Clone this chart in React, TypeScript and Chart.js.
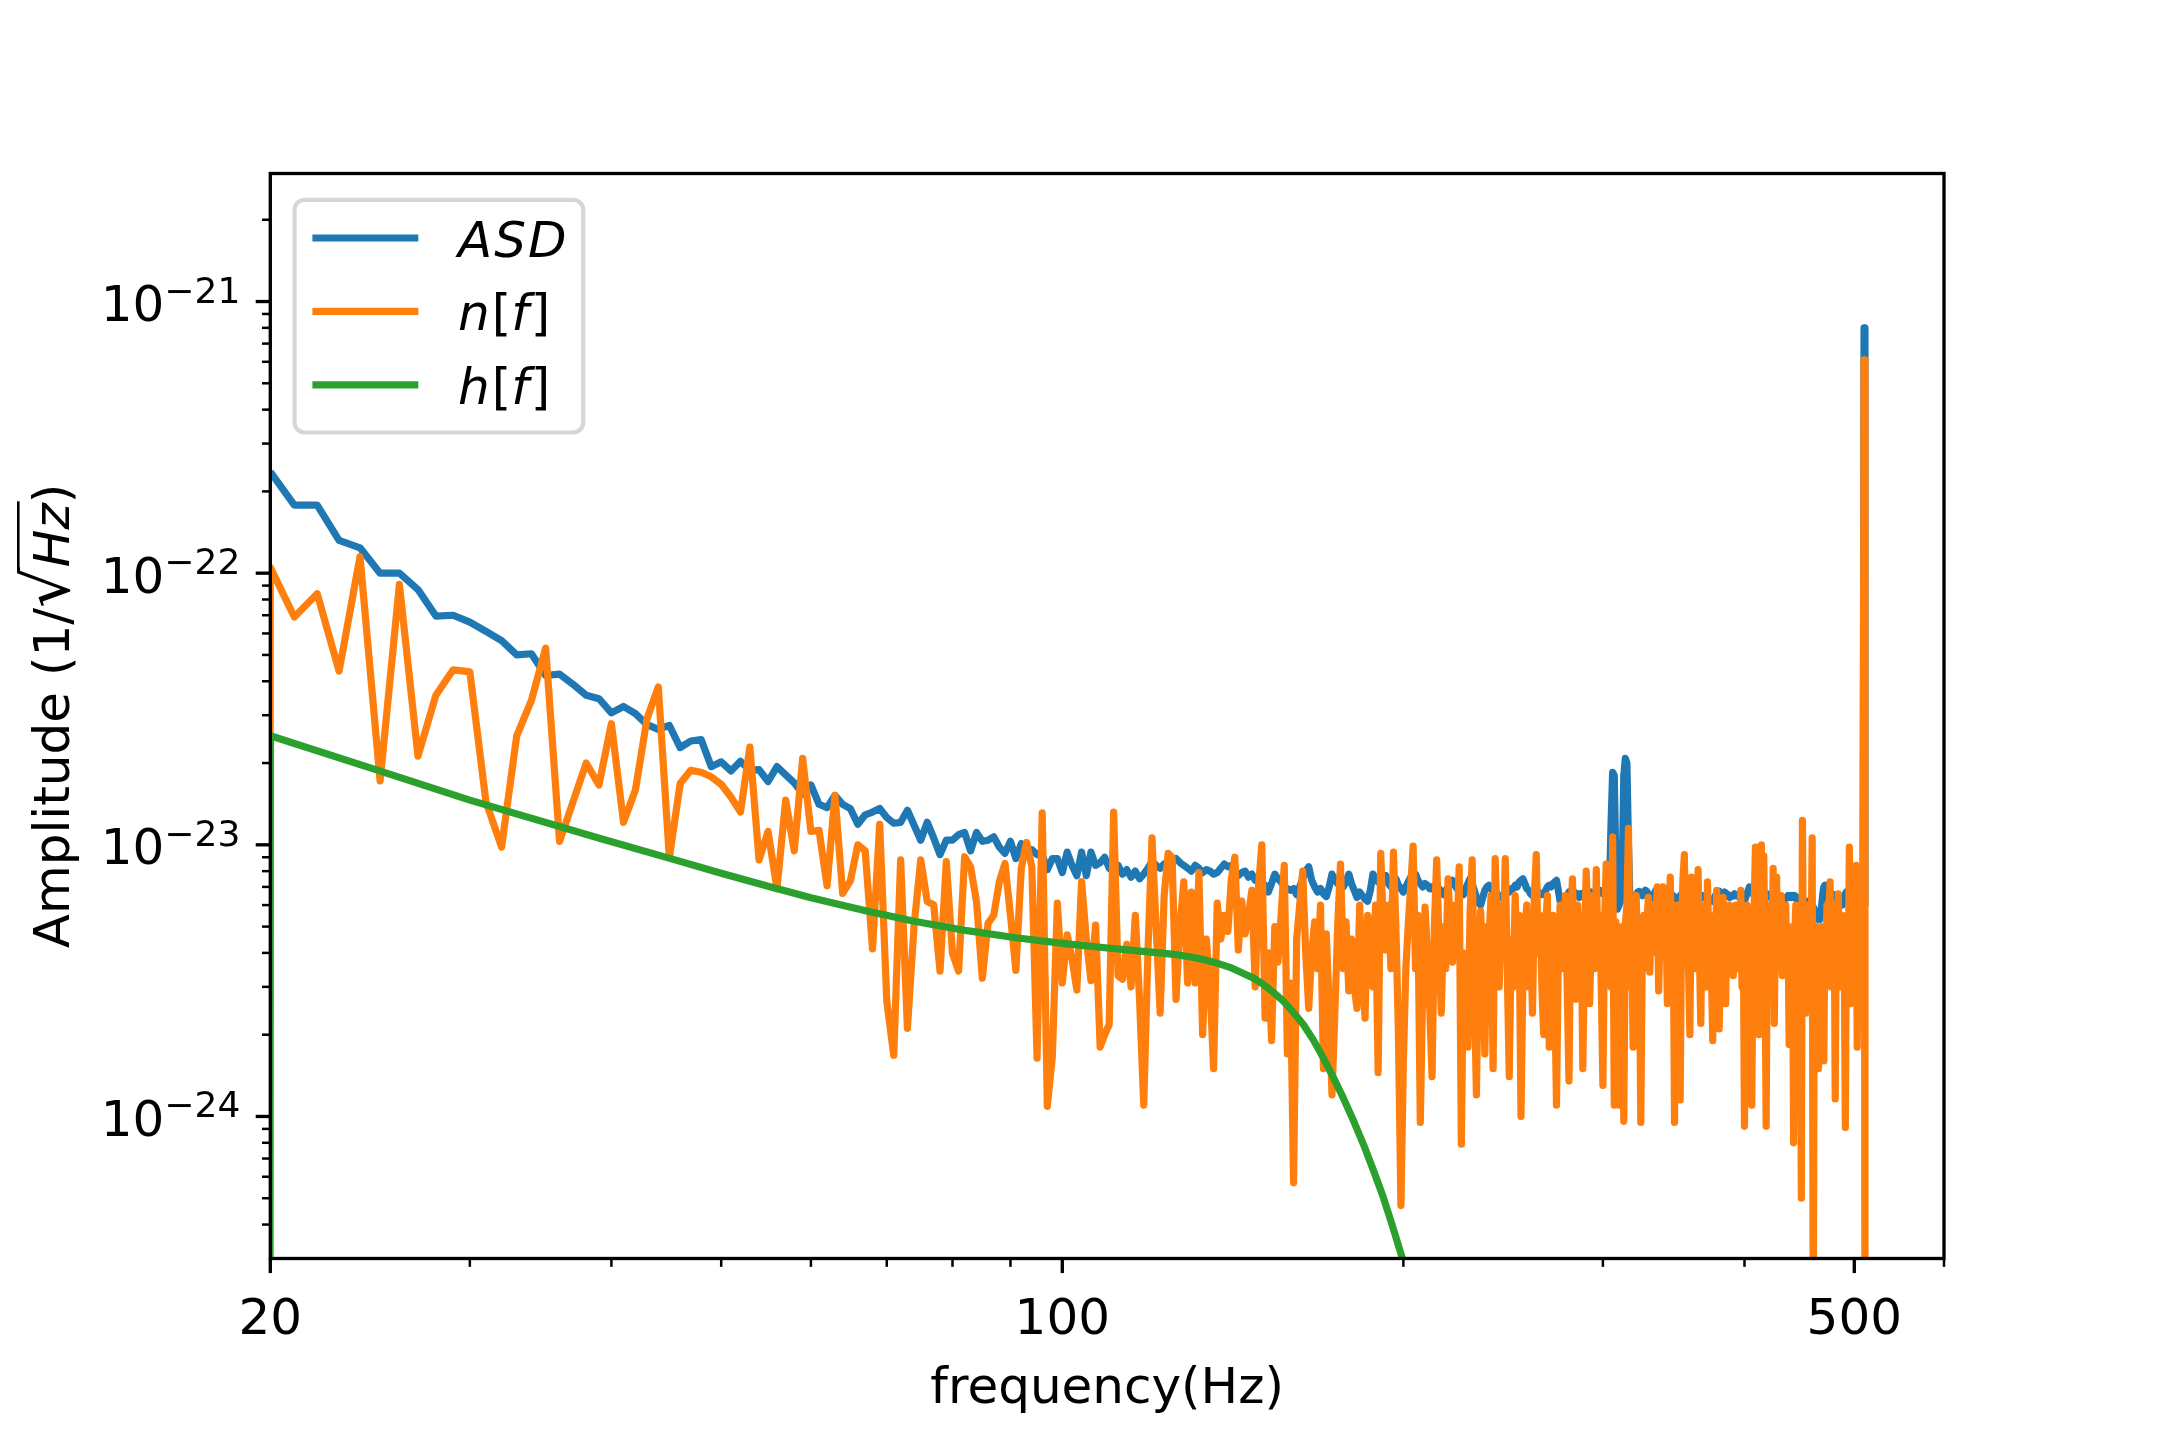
import React, { useEffect, useRef } from 'react';
import { Chart, registerables } from 'chart.js';

Chart.register(...registerables);

// ---------------- data (values in units of 1e-24 1/sqrt(Hz)) ----------------
const UNIT = 1e-24;
const FREQ_START = 20; // Hz, first bin of ASD and n[f]; bins are 1 Hz apart
const EDGE_FREQ = 19; // bin below the band where n[f] and h[f] are zero
const EDGE_VALUE = 1e-276; // ~0 (in UNIT)

// ASD, 20 ... 511 Hz
const ASD = [
  236, 178, 178, 132, 124, 100, 100, 87, 69.5, 70, // 20
  66, 61, 56.5, 50, 50.5, 42, 42.5, 39, 35.5, 34.5, // 30
  30.6, 32.3, 30.4, 27.7, 26.6, 27.5, 22.8, 24.1, 24.4, 19.4, // 40
  20.2, 18.7, 20.3, 18.8, 18.9, 17.1, 19.4, 18.1, 16.9, 15.4, // 50
  16.6, 14.1, 13.7, 15.2, 14.1, 13.6, 11.9, 12.9, 13.2, 13.6, // 60
  12.6, 12.0, 12.1, 13.4, 11.8, 10.4, 12.1, 10.6, 9.2, 10.4, // 70
  10.4, 10.9, 11.1, 9.5, 11.1, 10.3, 10.4, 10.7, 9.8, 9.3, // 80
  10.3, 8.9, 10.1, 9.7, 9.6, 9.2, 9.2, 8.1, 8.9, 8.9, // 90
  7.9, 9.4, 8.4, 7.7, 9.4, 7.7, 9.4, 8.4, 8.6, 9.0, // 100
  8.2, 8.0, 8.4, 7.8, 8.1, 7.6, 8.0, 7.5, 7.8, 8.2, // 110
  8.7, 8.4, 8.2, 8.5, 8.3, 8.7, 8.9, 8.6, 8.4, 8.2, // 120
  8.0, 8.4, 8.2, 7.9, 8.1, 8.0, 7.8, 7.9, 8.2, 8.5, // 130
  8.3, 8.4, 8.1, 7.7, 7.9, 8.0, 7.6, 7.8, 7.4, 7.3, // 140
  7.0, 7.1, 6.7, 7.2, 7.8, 7.5, 7.3, 7.0, 6.9, 6.8, // 150
  6.9, 6.55, 7.0, 7.5, 8.0, 8.3, 7.4, 7.0, 6.7, 6.9, // 160
  6.6, 6.45, 7.0, 7.8, 7.4, 7.2, 7.0, 7.0, 7.3, 7.8, // 170
  7.2, 6.8, 6.4, 6.7, 6.5, 6.3, 6.2, 6.8, 7.8, 7.5, // 180
  7.3, 7.4, 7.6, 7.7, 7.2, 7.0, 7.3, 7.5, 7.1, 6.9, // 190
  6.7, 7.0, 7.3, 7.6, 7.5, 7.8, 7.4, 7.2, 7.0, 7.2, // 200
  7.1, 6.9, 7.0, 6.8, 6.6, 6.9, 6.7, 6.55, 6.8, 7.0, // 210
  7.2, 7.4, 7.1, 6.9, 6.7, 6.6, 6.55, 6.9, 7.2, 7.5, // 220
  7.2, 6.8, 6.4, 6.1, 6.0, 6.4, 6.8, 7.0, 7.1, 6.9, // 230
  6.7, 6.8, 6.6, 6.5, 6.4, 6.4, 6.6, 6.8, 6.7, 6.9, // 240
  6.9, 7.1, 7.0, 7.3, 7.4, 7.5, 7.2, 6.9, 6.8, 6.6, // 250
  6.5, 6.7, 6.9, 6.7, 6.6, 6.55, 6.6, 6.8, 7.0, 7.1, // 260
  7.0, 7.2, 7.3, 7.4, 6.8, 6.2, 5.9, 5.85, 6.2, 6.5, // 270
  6.7, 6.6, 6.8, 6.7, 6.5, 6.6, 6.4, 6.6, 6.55, 6.7, // 280
  6.8, 6.6, 6.5, 6.7, 6.6, 6.4, 6.55, 6.6, 6.8, 6.7, // 290
  6.6, 6.8, 6.7, 6.6, 6.8, 12.0, 18.5, 18.0, 8.5, 5.8, // 300
  6.0, 6.2, 8.0, 18.0, 20.8, 20.0, 10.0, 6.1, 6.0, 5.85, // 310
  6.2, 6.5, 6.7, 6.74, 6.6, 6.5, 6.7, 6.8, 6.74, 6.6, // 320
  6.5, 6.36, 6.4, 6.6, 6.8, 6.9, 6.8, 6.6, 6.7, 6.9, // 330
  6.8, 6.6, 6.4, 6.2, 6.2, 6.4, 6.5, 6.4, 6.3, 6.36, // 340
  6.4, 6.5, 6.6, 6.5, 6.6, 6.55, 6.5, 6.4, 6.3, 6.2, // 350
  6.2, 6.3, 6.4, 6.3, 6.2, 6.3, 6.4, 6.5, 6.4, 6.45, // 360
  6.45, 6.4, 6.3, 6.2, 6.3, 6.2, 6.3, 6.5, 6.6, 6.7, // 370
  6.74, 6.6, 6.5, 6.6, 6.7, 6.65, 6.6, 6.5, 6.4, 6.5, // 380
  6.45, 6.5, 6.6, 6.5, 6.55, 6.5, 6.4, 6.3, 6.2, 6.3, // 390
  6.2, 6.4, 6.6, 6.8, 7.0, 6.9, 6.7, 6.6, 6.5, 6.55, // 400
  6.4, 6.3, 6.2, 6.1, 6.0, 6.0, 6.2, 6.4, 6.5, 6.6, // 410
  6.5, 6.55, 6.4, 6.3, 6.2, 6.3, 6.2, 6.2, 6.3, 6.4, // 420
  6.3, 6.4, 6.3, 6.4, 6.3, 6.36, 6.4, 6.5, 6.4, 6.5, // 430
  6.4, 6.5, 6.4, 6.5, 6.45, 6.3, 6.2, 6.1, 6.0, 6.0, // 440
  6.1, 6.2, 6.1, 6.0, 6.1, 6.2, 6.1, 6.1, 6.1, 6.0, // 450
  5.9, 5.8, 5.6, 5.5, 5.4, 5.3, 5.3, 5.5, 6.0, 6.6, // 460
  7.0, 7.1, 7.0, 7.1, 6.9, 6.8, 6.7, 6.6, 6.55, 6.5, // 470
  6.55, 6.5, 6.4, 6.3, 6.2, 6.1, 6.0, 6.0, 6.0, 6.2, // 480
  6.4, 6.6, 6.7, 6.74, 6.7, 6.74, 6.8, 6.9, 6.8, 6.9, // 490
  6.9, 6.8, 6.9, 6.9, 6.8, 6.7, 6.6, 6.5, 6.4, 6.3, // 500
  800, 6.0, // 510
];

// n[f], 20 ... 511 Hz
const NF = [
  105, 69, 84, 43.6, 115, 17.2, 91, 21.2, 35.5, 44.1, // 20
  43.3, 14.4, 9.8, 25.2, 34, 53, 10.3, 14.4, 20, 16.6, // 30
  27.9, 12.1, 15.9, 29.1, 38.1, 8.97, 16.8, 18.8, 18.5, 17.8, // 40
  16.7, 15.0, 13.2, 22.9, 8.8, 11.2, 6.9, 14.6, 9.5, 20.8, // 50
  11.2, 11.3, 7.07, 15.2, 6.62, 7.36, 10.0, 9.5, 4.14, 11.9, // 60
  2.66, 1.68, 8.8, 2.11, 5.06, 8.8, 6.18, 6.02, 3.43, 8.67, // 70
  3.99, 3.43, 9.04, 8.3, 6.18, 3.23, 5.14, 5.51, 7.32, 8.54, // 80
  5.51, 3.45, 8.2, 10.2, 8.3, 1.64, 13.1, 1.09, 1.66, 6.1, // 90
  3.1, 4.66, 3.8, 2.92, 7.32, 4.5, 3.16, 5.06, 1.8, 2.0, // 100
  2.18, 13.2, 3.3, 3.2, 4.3, 3.0, 5.5, 2.7, 1.1, 4.0, // 110
  10.6, 5.0, 2.4, 6.5, 9.3, 9.0, 2.7, 5.0, 7.3, 3.1, // 120
  6.7, 3.1, 7.9, 2.0, 4.5, 3.0, 1.5, 6.1, 4.5, 5.5, // 130
  4.8, 7.5, 9.0, 4.1, 6.2, 4.7, 5.5, 6.8, 3.0, 7.0, // 140
  10.0, 2.3, 4.0, 1.9, 5.0, 3.7, 5.5, 8.4, 1.7, 3.1, // 150
  0.57, 4.5, 6.0, 8.0, 4.0, 2.5, 4.0, 5.2, 3.5, 6.0, // 160
  1.5, 4.7, 2.5, 1.2, 2.4, 5.0, 8.5, 3.5, 5.2, 2.9, // 170
  4.5, 3.0, 2.5, 6.0, 3.5, 2.3, 5.5, 4.9, 3.0, 6.0, // 180
  1.45, 9.3, 5.0, 4.1, 6.0, 3.5, 9.4, 4.9, 2.0, 0.47, // 190
  1.6, 3.5, 5.1, 7.0, 9.9, 3.5, 5.5, 0.95, 3.0, 5.9, // 200
  4.0, 2.5, 1.4, 5.0, 8.8, 4.5, 2.4, 5.0, 3.5, 7.5, // 210
  5.0, 3.7, 6.0, 4.5, 8.3, 0.79, 4.0, 3.9, 1.8, 5.5, // 220
  8.8, 3.0, 1.2, 4.0, 5.7, 3.5, 1.7, 5.0, 4.5, 6.5, // 230
  1.5, 8.9, 5.0, 3.0, 6.0, 4.0, 8.9, 3.5, 1.4, 4.5, // 240
  3.0, 6.5, 4.0, 5.5, 1.0, 3.5, 5.0, 6.0, 3.0, 5.0, // 250
  2.4, 6.5, 9.2, 4.0, 5.5, 3.0, 2.0, 5.0, 6.5, 1.8, // 260
  4.5, 5.5, 3.0, 1.1, 4.0, 6.0, 3.5, 4.9, 6.5, 3.0, // 270
  1.35, 5.0, 7.5, 4.0, 2.7, 6.0, 3.5, 5.5, 1.5, 4.0, // 280
  8.0, 5.0, 2.6, 4.5, 6.5, 3.5, 8.1, 4.0, 5.5, 3.0, // 290
  1.3, 5.0, 8.5, 4.0, 6.0, 3.0, 10.7, 1.1, 5.2, 3.5, // 300
  1.1, 4.0, 5.0, 0.96, 5.1, 6.0, 11.5, 3.0, 5.5, 1.8, // 310
  4.5, 6.5, 3.5, 5.0, 0.95, 4.0, 5.5, 3.5, 5.0, 6.4, // 320
  3.4, 5.5, 4.0, 6.0, 4.5, 7.0, 2.9, 5.0, 4.0, 7.0, // 330
  4.5, 5.5, 2.6, 5.0, 7.6, 4.0, 6.0, 0.95, 4.5, 6.0, // 340
  3.5, 1.15, 5.0, 7.5, 9.2, 4.0, 6.0, 3.5, 2.0, 7.6, // 350
  4.0, 6.0, 3.5, 5.5, 8.1, 4.0, 2.2, 5.0, 4.0, 6.0, // 360
  3.0, 7.3, 4.5, 5.5, 3.5, 1.9, 5.0, 4.0, 6.8, 3.5, // 370
  2.1, 5.0, 4.0, 6.4, 3.0, 2.6, 5.5, 4.0, 6.0, 3.5, // 380
  5.0, 3.3, 4.5, 6.0, 3.5, 5.0, 4.0, 6.8, 3.0, 5.0, // 390
  0.92, 4.0, 6.0, 3.5, 5.0, 4.0, 1.1, 4.5, 6.0, 9.8, // 400
  4.0, 5.5, 2.0, 5.0, 10.0, 3.5, 9.1, 4.0, 0.92, 4.5, // 410
  6.0, 4.0, 5.5, 3.5, 8.2, 2.2, 5.0, 7.6, 3.5, 5.5, // 420
  4.0, 6.5, 3.3, 5.0, 4.0, 6.0, 3.5, 5.0, 1.84, 4.5, // 430
  3.5, 5.0, 0.8, 4.5, 6.0, 3.0, 5.0, 4.0, 5.5, 0.5, // 440
  12.3, 3.0, 5.0, 2.4, 4.5, 6.0, 3.5, 5.0, 4.0, 10.6, // 450
  0.15, 4.0, 3.0, 5.0, 3.5, 1.5, 4.5, 3.0, 5.0, 4.0, // 460
  1.6, 5.0, 3.5, 6.0, 4.0, 5.5, 7.3, 3.0, 5.0, 4.0, // 470
  6.0, 1.16, 4.5, 3.0, 6.6, 4.0, 5.0, 3.0, 5.5, 4.0, // 480
  3.5, 0.91, 4.5, 5.5, 3.5, 9.8, 2.6, 5.0, 4.0, 6.0, // 490
  3.5, 5.0, 8.4, 1.8, 5.0, 3.0, 6.0, 4.0, 5.0, 3.5, // 500
  610, 0.1, // 510
];

// h[f]
const HF_FREQ = [20, 24.7, 30, 39.1, 44.8, 50, 54.9, 60, 67.2, 74, 82.4, 91, 100.9, 110.2, 117.9, 126.2, 131.4, 136.9, 140.6, 144.5, 147.5, 150.5, 153.6, 156.7, 159.9, 163.2, 166.6, 170, 173.5, 177, 180.7, 184.4, 188.2, 192, 195.4, 198.7, 210];
const HF = [25.2, 19.0, 14.6, 10.55, 8.97, 7.86, 7.05, 6.39, 5.71, 5.23, 4.83, 4.55, 4.32, 4.16, 4.05, 3.94, 3.83, 3.67, 3.54, 3.36, 3.23, 3.06, 2.86, 2.66, 2.42, 2.18, 1.91, 1.64, 1.39, 1.17, 0.966, 0.79, 0.633, 0.504, 0.401, 0.319, 0.15];

const SERIES_LABELS = ['ASD', 'n[f]', 'h[f]'];
const SERIES_COLORS = ['#1f77b4', '#ff7f0e', '#2ca02c'];

// axes
const X_MIN = 20;
const X_MAX = 600;
const Y_MIN = 3.05e-25;
const Y_MAX = 2.96e-21;
const X_MAJOR = [20, 100, 500];
const X_MINOR = [30, 40, 50, 60, 70, 80, 90, 200, 300, 400, 600];
const Y_MAJOR_EXP = [-21, -22, -23, -24];
const X_TITLE = 'frequency(Hz)';

// ---------------- layout (px in a 2160x1440 canvas) ----------------
const W = 2160;
const H = 1440;
const AREA = { left: 270.3, top: 173.5, right: 1944, bottom: 1258.5 };
const FONT = '"DejaVu Sans", "Liberation Sans", sans-serif';
const LINE_W = 7.2;

function binSeries(values: number[]) {
  return values.map((u, i) => ({ x: FREQ_START + i, y: u * UNIT }));
}

const mplPlugin = {
  id: 'mplAxes',
  afterDraw(chart: any) {
    const { ctx, chartArea: a } = chart;
    const xs = chart.scales.x;
    const ys = chart.scales.y;
    ctx.save();
    ctx.fillStyle = '#000';
    ctx.strokeStyle = '#000';
    ctx.lineCap = 'butt';

    // spines
    ctx.lineWidth = 3.33;
    ctx.strokeRect(a.left, a.top, a.right - a.left, a.bottom - a.top);

    const tick = (x1: number, y1: number, x2: number, y2: number, w: number) => {
      ctx.lineWidth = w;
      ctx.beginPath();
      ctx.moveTo(x1, y1);
      ctx.lineTo(x2, y2);
      ctx.stroke();
    };
    // x ticks
    X_MINOR.forEach((v) => {
      if (v < X_MIN || v > X_MAX) return;
      const px = xs.getPixelForValue(v);
      tick(px, a.bottom, px, a.bottom + 8.33, 2.5);
    });
    X_MAJOR.forEach((v) => {
      const px = xs.getPixelForValue(v);
      tick(px, a.bottom, px, a.bottom + 14.6, 3.33);
    });
    // y ticks
    for (let e = -25; e <= -21; e++) {
      for (let k = 2; k <= 9; k++) {
        const v = k * Math.pow(10, e);
        if (v < Y_MIN || v > Y_MAX) continue;
        const py = ys.getPixelForValue(v);
        tick(a.left - 8.33, py, a.left, py, 2.5);
      }
    }
    Y_MAJOR_EXP.forEach((e) => {
      const py = ys.getPixelForValue(Math.pow(10, e));
      tick(a.left - 14.6, py, a.left, py, 3.33);
    });

    // x tick labels
    ctx.font = `50px ${FONT}`;
    ctx.textAlign = 'center';
    ctx.textBaseline = 'alphabetic';
    X_MAJOR.forEach((v) => {
      ctx.fillText(String(v), xs.getPixelForValue(v), a.bottom + 75.5);
    });

    // y tick labels: 10^{-n}
    ctx.textAlign = 'left';
    Y_MAJOR_EXP.forEach((e) => {
      const py = ys.getPixelForValue(Math.pow(10, e));
      const base = '10';
      const sup = '\u2212' + String(Math.abs(e));
      ctx.font = `50px ${FONT}`;
      const wb = ctx.measureText(base).width;
      ctx.font = `36px ${FONT}`;
      const ws = ctx.measureText(sup).width;
      const x0 = a.left - 30 - wb - ws;
      ctx.font = `50px ${FONT}`;
      ctx.fillText(base, x0, py + 19.5);
      ctx.font = `36px ${FONT}`;
      ctx.fillText(sup, x0 + wb, py + 1);
    });

    // x axis title
    ctx.font = `50px ${FONT}`;
    ctx.textAlign = 'center';
    ctx.fillText(X_TITLE, (a.left + a.right) / 2, 1403);

    // y axis title: Amplitude (1/sqrt(Hz))
    ctx.save();
    ctx.translate(69, (a.top + a.bottom) / 2);
    ctx.rotate(-Math.PI / 2);
    ctx.textAlign = 'left';
    const reg = `50px ${FONT}`;
    const ita = `italic 50px ${FONT}`;
    const radFont = `64px ${FONT}`;
    const parts = [
      { t: 'Amplitude (', f: reg },
      { t: '1/', f: reg },
      { t: '\u221A', f: radFont },
      { t: 'Hz', f: ita },
      { t: ')', f: reg },
    ];
    const widths = parts.map((p) => {
      ctx.font = p.f;
      return ctx.measureText(p.t).width;
    });
    const total = widths.reduce((s, w) => s + w, 0);
    let cx = -total / 2;
    let radTop = -57;
    let radStart = 0;
    parts.forEach((p, i) => {
      ctx.font = p.f;
      ctx.fillText(p.t, cx, 0);
      if (p.t === '\u221A') {
        const m = ctx.measureText(p.t);
        radTop = -(m.actualBoundingBoxAscent || 57);
        radStart = cx + widths[i] - 3;
      }
      if (p.t === 'Hz') {
        ctx.lineWidth = 2.6;
        ctx.beginPath();
        ctx.moveTo(radStart, radTop + 1.3);
        ctx.lineTo(cx + widths[i] + 2, radTop + 1.3);
        ctx.stroke();
      }
      cx += widths[i];
    });
    ctx.restore();

    // legend
    const lg = { left: 294.6, top: 199.9, right: 583.2, bottom: 432.5, r: 10 };
    ctx.beginPath();
    ctx.roundRect(lg.left, lg.top, lg.right - lg.left, lg.bottom - lg.top, lg.r);
    ctx.fillStyle = 'rgba(255,255,255,0.8)';
    ctx.fill();
    ctx.lineWidth = 4.17;
    ctx.strokeStyle = 'rgba(204,204,204,0.8)';
    ctx.stroke();
    const rows = [238, 311.4, 384.8];
    SERIES_LABELS.forEach((label, i) => {
      const ry = rows[i];
      ctx.strokeStyle = SERIES_COLORS[i];
      ctx.lineWidth = LINE_W;
      ctx.beginPath();
      ctx.moveTo(312.4, ry);
      ctx.lineTo(418.3, ry);
      ctx.stroke();
      ctx.fillStyle = '#000';
      ctx.textAlign = 'left';
      let tx = 458;
      for (const ch of label) {
        const upright = ch === '[' || ch === ']';
        ctx.font = upright ? reg : ita;
        ctx.fillText(ch, tx, ry + 19);
        tx += ctx.measureText(ch).width + (upright ? 0 : 2);
      }
    });

    ctx.restore();
  },
};

export default function App() {
  const ref = useRef<HTMLCanvasElement | null>(null);

  useEffect(() => {
    if (!ref.current) return;
    const asdData = binSeries(ASD);
    const nfData = [{ x: EDGE_FREQ, y: EDGE_VALUE * UNIT }, ...binSeries(NF)];
    const hfData = [
      { x: EDGE_FREQ, y: EDGE_VALUE * UNIT },
      ...HF.map((u, i) => ({ x: HF_FREQ[i], y: u * UNIT })),
    ];
    const common = {
      borderWidth: LINE_W,
      pointRadius: 0,
      pointHoverRadius: 0,
      tension: 0,
      fill: false,
      clip: 0,
      borderJoinStyle: 'round' as const,
      borderCapStyle: 'butt' as const,
    };
    const chart = new Chart(ref.current, {
      type: 'line',
      data: {
        datasets: [
          { ...common, label: SERIES_LABELS[0], data: asdData, borderColor: SERIES_COLORS[0], order: 3 },
          { ...common, label: SERIES_LABELS[1], data: nfData, borderColor: SERIES_COLORS[1], order: 2 },
          { ...common, label: SERIES_LABELS[2], data: hfData, borderColor: SERIES_COLORS[2], order: 1 },
        ],
      },
      options: {
        responsive: false,
        maintainAspectRatio: false,
        devicePixelRatio: 1,
        animation: false,
        events: [],
        parsing: true,
        normalized: true,
        layout: {
          padding: {
            left: AREA.left,
            top: AREA.top,
            right: W - AREA.right,
            bottom: H - AREA.bottom,
          },
        },
        plugins: {
          legend: { display: false },
          tooltip: { enabled: false },
          title: { display: false },
        },
        scales: {
          x: { type: 'logarithmic', min: X_MIN, max: X_MAX, display: false },
          y: { type: 'logarithmic', min: Y_MIN, max: Y_MAX, display: false },
        },
      },
      plugins: [mplPlugin],
    } as any);
    return () => chart.destroy();
  }, []);

  return (
    <div style={{ position: 'absolute', left: 0, top: 0, width: W, height: H, background: '#ffffff' }}>
      <canvas ref={ref} width={W} height={H} style={{ width: W, height: H, display: 'block' }} />
    </div>
  );
}
